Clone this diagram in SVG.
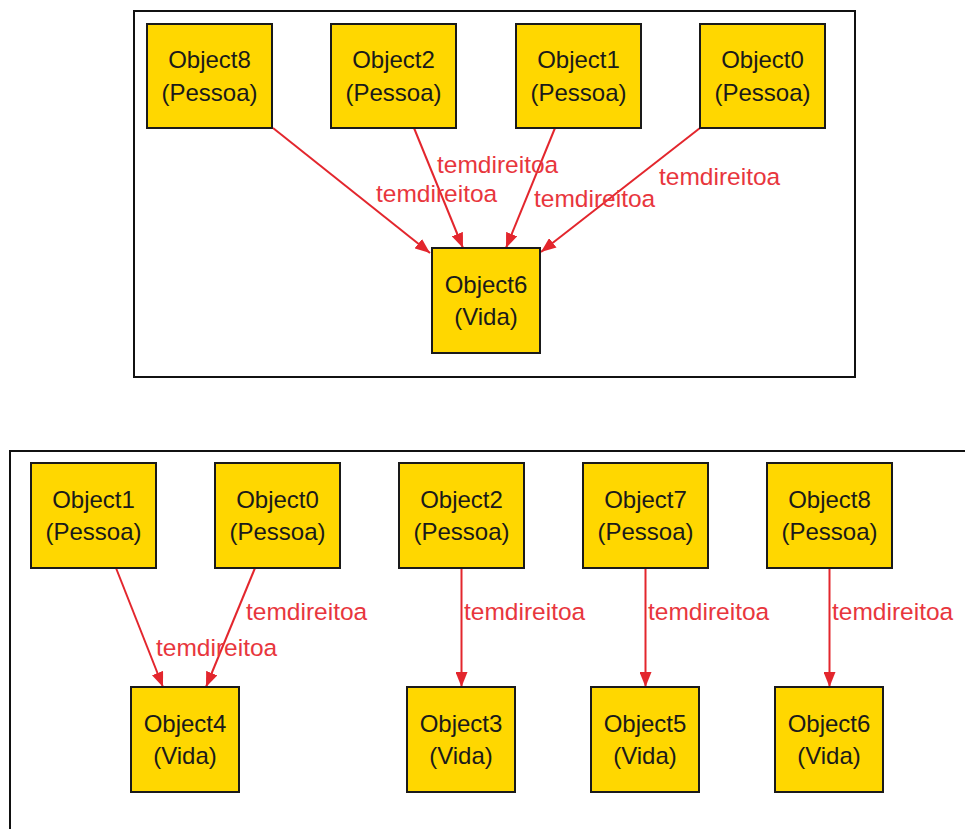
<svg xmlns="http://www.w3.org/2000/svg" width="965" height="829" viewBox="0 0 965 829">
<style>
.frame{fill:none;stroke:#111;stroke-width:2}
.box{fill:#FFD700;stroke:#1a1a1a;stroke-width:2}
.nt{font-family:"Liberation Sans",Arial,sans-serif;font-size:24px;fill:#1a1a1a;text-anchor:middle}
.edge{stroke:#e3262d;stroke-width:2;fill:none;marker-end:url(#arr)}
.lbl{font-family:"Liberation Sans",Arial,sans-serif;font-size:24.5px;fill:#e8363d}
</style>
<defs>
<marker id="arr" markerUnits="userSpaceOnUse" markerWidth="16" markerHeight="12" refX="15" refY="6" orient="auto">
<path d="M0,0 L15,6 L0,12 z" fill="#e3262d"/>
</marker>
</defs>
<rect width="965" height="829" fill="#fff"/>
<rect class="frame" x="134" y="11" width="721" height="366"/>
<path class="frame" d="M965,451 H10 V829"/>

<g id="edges">
<line class="edge" x1="273" y1="128" x2="430" y2="253"/>
<line class="edge" x1="414" y1="128" x2="463" y2="248"/>
<line class="edge" x1="555" y1="128" x2="506" y2="248"/>
<line class="edge" x1="700" y1="128" x2="541" y2="252"/>
<text class="lbl" x="437" y="173">temdireitoa</text>
<text class="lbl" x="376" y="202">temdireitoa</text>
<text class="lbl" x="534" y="207">temdireitoa</text>
<text class="lbl" x="659" y="185">temdireitoa</text>

<line class="edge" x1="116" y1="568" x2="163" y2="687"/>
<line class="edge" x1="255" y1="568" x2="206" y2="687"/>
<line class="edge" x1="461.5" y1="568" x2="461.5" y2="687"/>
<line class="edge" x1="645.5" y1="568" x2="645.5" y2="687"/>
<line class="edge" x1="829.5" y1="568" x2="829.5" y2="687"/>
<text class="lbl" x="246" y="620">temdireitoa</text>
<text class="lbl" x="156" y="656">temdireitoa</text>
<text class="lbl" x="464" y="620">temdireitoa</text>
<text class="lbl" x="648" y="620">temdireitoa</text>
<text class="lbl" x="832" y="620">temdireitoa</text>
</g>

<g id="t-object8"><rect class="box" x="147" y="24" width="125" height="104"/><text class="nt" x="209.5" y="68">Object8</text><text class="nt" x="209.5" y="100.5">(Pessoa)</text></g>
<g id="t-object2"><rect class="box" x="331" y="24" width="125" height="104"/><text class="nt" x="393.5" y="68">Object2</text><text class="nt" x="393.5" y="100.5">(Pessoa)</text></g>
<g id="t-object1"><rect class="box" x="516" y="24" width="125" height="104"/><text class="nt" x="578.5" y="68">Object1</text><text class="nt" x="578.5" y="100.5">(Pessoa)</text></g>
<g id="t-object0"><rect class="box" x="700" y="24" width="125" height="104"/><text class="nt" x="762.5" y="68">Object0</text><text class="nt" x="762.5" y="100.5">(Pessoa)</text></g>
<g id="t-object6"><rect class="box" x="432" y="248" width="108" height="105"/><text class="nt" x="486" y="292.5">Object6</text><text class="nt" x="486" y="325">(Vida)</text></g>

<g id="b-object1"><rect class="box" x="31" y="463" width="125" height="105"/><text class="nt" x="93.5" y="507.5">Object1</text><text class="nt" x="93.5" y="540">(Pessoa)</text></g>
<g id="b-object0"><rect class="box" x="215" y="463" width="125" height="105"/><text class="nt" x="277.5" y="507.5">Object0</text><text class="nt" x="277.5" y="540">(Pessoa)</text></g>
<g id="b-object2"><rect class="box" x="399" y="463" width="125" height="105"/><text class="nt" x="461.5" y="507.5">Object2</text><text class="nt" x="461.5" y="540">(Pessoa)</text></g>
<g id="b-object7"><rect class="box" x="583" y="463" width="125" height="105"/><text class="nt" x="645.5" y="507.5">Object7</text><text class="nt" x="645.5" y="540">(Pessoa)</text></g>
<g id="b-object8"><rect class="box" x="767" y="463" width="125" height="105"/><text class="nt" x="829.5" y="507.5">Object8</text><text class="nt" x="829.5" y="540">(Pessoa)</text></g>

<g id="b-object4"><rect class="box" x="131" y="687" width="108" height="105"/><text class="nt" x="185" y="731.5">Object4</text><text class="nt" x="185" y="764">(Vida)</text></g>
<g id="b-object3"><rect class="box" x="407" y="687" width="108" height="105"/><text class="nt" x="461" y="731.5">Object3</text><text class="nt" x="461" y="764">(Vida)</text></g>
<g id="b-object5"><rect class="box" x="591" y="687" width="108" height="105"/><text class="nt" x="645" y="731.5">Object5</text><text class="nt" x="645" y="764">(Vida)</text></g>
<g id="b-object6"><rect class="box" x="775" y="687" width="108" height="105"/><text class="nt" x="829" y="731.5">Object6</text><text class="nt" x="829" y="764">(Vida)</text></g>
</svg>
